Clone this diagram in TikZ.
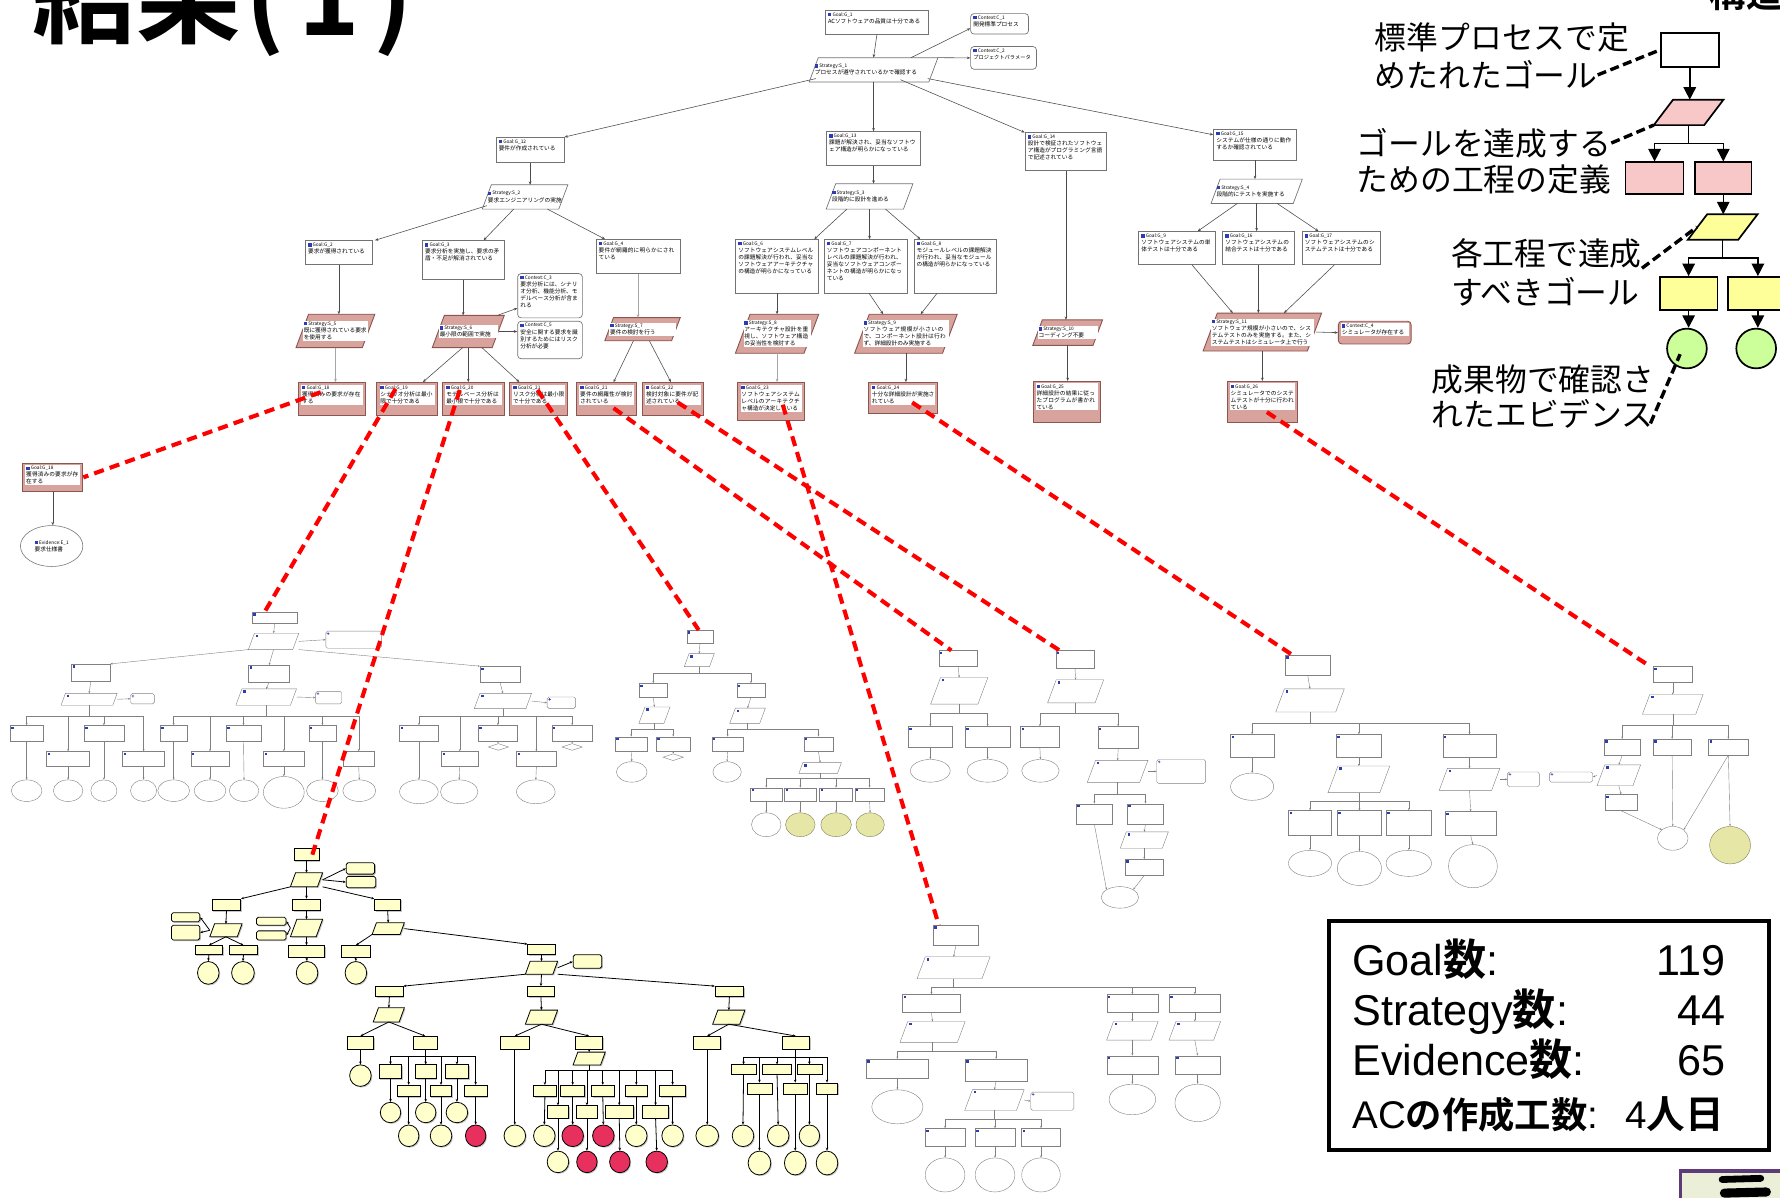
\documentclass[tikz,border=0pt]{standalone}
\usepackage{fontspec}
\setmainfont{Liberation Sans}
\newfontfamily\jp{Noto Sans CJK JP}
\newfontfamily\jpb{Noto Sans CJK JP Bold}
\XeTeXlinebreaklocale "ja"
\XeTeXlinebreakskip=0pt plus 1pt
\usetikzlibrary{arrows.meta,shapes.geometric,shadows}
\definecolor{pinkf}{HTML}{D8A39D}
\definecolor{pinkd}{HTML}{8B5550}
\definecolor{gsnblue}{HTML}{2B3DB0}
\definecolor{ycream}{HTML}{FFFFCC}
\definecolor{yred}{HTML}{E8305E}
\definecolor{lgpink}{HTML}{F8C8C8}
\definecolor{lgyel}{HTML}{FFFF99}
\definecolor{lggreen}{HTML}{CCFF99}
\definecolor{evy}{HTML}{E6E6A6}
\definecolor{cpurple}{HTML}{5E3A78}
\definecolor{cfill}{HTML}{ECEFD8}
\newcommand\gfont{\jp\fontsize{5}{6.2}\selectfont}
\newcommand\gsnhd[1]{\textcolor{gsnblue}{\rule{3pt}{3pt}}\hspace{1pt}{\fontsize{4.2}{5}\selectfont #1}}
\newcommand\mknode[6]{%
 \pgfmathsetmacro\gcx{(#3+#5)/2}\pgfmathsetmacro\gcy{(#4+#6)/2}%
 \pgfmathsetmacro\gw{#5-#3}\pgfmathsetmacro\gh{#6-#4}%
 \node[#1, minimum width=\gw pt, minimum height=\gh pt] (#2) at (\gcx,\gcy) {};}
\newcommand\mkpara[6]{%
 \mknode{inv}{#2}{#3}{#4}{#5}{#6}%
 \pgfmathsetmacro\gs{0.38*(#6-#4)}%
 \path[#1] ([xshift=\gs pt]#2.north west) -- (#2.north east) -- ([xshift=-\gs pt]#2.south east) -- (#2.south west) -- cycle;}
\newcommand\mkparaI[6]{\mkpara{#1}{#2}{#3}{#4}{#5}{#6}\pgfmathsetmacro\gsi{\gs+1.2}%
 \fill[gsnblue] ([shift={(\gsi,1.2)}]#2.north west) rectangle ++(2.2,2.2);}
\newcommand\gsnN[9]{%
 \mknode{#1}{#3}{#4}{#5}{#6}{#7}%
 \pgfmathsetmacro\gtw{#6-#4-6}%
 \node[#2, text width=\gtw pt] at ([shift={(2.5,2)}]#3.north west) {\gsnhd{#8}\\#9};}
\newcommand\gsnS[9]{%
 \mkpara{#1}{#3}{#4}{#5}{#6}{#7}%
 \pgfmathsetmacro\gtw{#6-#4-1.2*\gs}%
 \node[#2, text width=\gtw pt] at (#3.center) {\gsnhd{#8}\\#9};}
\newcommand\lk[3]{\draw[#1] (#2) -- (#3);}
\newcommand\busto[4]{\foreach \bch in {#3}{\draw[#4] (#1.south) -- ++(0,#2) -| (\bch.north);}}
\begin{document}
\begin{tikzpicture}[x=1pt,y=-1pt,
 inv/.style={inner sep=0pt, draw=none, rectangle},
 gbox/.style={draw=black!55, fill=white, line width=0.6pt, inner sep=0pt},
 pbox/.style={draw=pinkd, fill=pinkf, line width=0.8pt, inner sep=0pt},
 cbox/.style={gbox, rounded corners=3pt},
 pcbox/.style={pbox, rounded corners=3pt},
 gtxt/.style={anchor=north west, inner sep=0pt, align=left, font=\gfont},
 ptxt/.style={anchor=north west, inner sep=0.8pt, fill=white, align=left, font=\gfont},
 stxt/.style={inner sep=0pt, align=left, font=\gfont},
 pstxt/.style={inner sep=0.8pt, fill=white, align=left, font=\gfont},
 eev/.style={ellipse, draw=black!55, fill=white, line width=0.5pt, inner sep=0pt},
 ge/.style={draw=black!70, line width=0.5pt, -{Stealth[length=3pt,width=2.4pt]}},
 gel/.style={ge, draw=black!35},
 te/.style={draw=black!50, line width=0.35pt, -{Stealth[length=2pt,width=1.6pt]}},
 ye/.style={draw=black, line width=0.7pt, -{Stealth[length=2.6pt,width=2.2pt]}},
 rd/.style={draw=red, line width=3.6pt, dash pattern=on 9pt off 5.5pt},
 la/.style={draw=black, line width=1.3pt, -{Triangle[length=11pt,width=11pt]}},
 ld/.style={draw=black, line width=3pt, dash pattern=on 8pt off 4pt},
 tg/.style={draw=black!50, fill=white, line width=0.35pt, inner sep=0pt,
   path picture={\fill[gsnblue] ([shift={(1,1)}]path picture bounding box.north west) rectangle ++(2.2,2.2);}},
 tc/.style={tg, rounded corners=1.5pt},
 tp/.style={draw=black!50, fill=white, line width=0.35pt},
 tev/.style={ellipse, draw=black!50, fill=white, line width=0.35pt, inner sep=0pt},
 tevy/.style={tev, fill=evy, draw=evy!55!black},
 tdia/.style={diamond, draw=black!50, fill=white, line width=0.35pt, inner sep=0pt},
 ysh/.style={drop shadow={shadow xshift=1pt, shadow yshift=-1pt, fill=black!45}},
 yg/.style={draw=black, fill=ycream, line width=0.7pt, inner sep=0pt, ysh},
 yc/.style={yg, rounded corners=1.5pt},
 yp/.style={draw=black, fill=ycream, line width=0.7pt, ysh},
 yev/.style={ellipse, draw=black, fill=ycream, line width=0.7pt, inner sep=0pt, ysh},
 yer/.style={yev, fill=yred},
 lbox/.style={draw=black, line width=1.5pt, fill=white, inner sep=0pt},
 lpink/.style={lbox, fill=lgpink},
 lyel/.style={lbox, fill=lgyel},
 lcirc/.style={circle, draw=black, line width=1.5pt, fill=lggreen, inner sep=0pt, minimum size=35pt},
 lgt/.style={inner sep=0pt, anchor=west, font=\jp\fontsize{28}{30}\selectfont},
 stat/.style={inner sep=0pt, font=\fontsize{38}{44}\selectfont},
 statb/.style={inner sep=0pt, font=\fontsize{34}{40}\selectfont}
]
\useasboundingbox (0,0) rectangle (1568,1055);
\fill[white] (0,0) rectangle (1568,1055);

% ---------- title and heading (cut at top)
\node[anchor=base west, inner sep=0pt, font=\jpb\fontsize{92}{92}\selectfont] (title) at (28,31) {結果\hspace{4pt}(\hspace{12pt}1\hspace{12pt})};
\node[anchor=base west, inner sep=0pt, font=\jpb\fontsize{32}{32}\selectfont] (heading) at (1506,7) {構造};

% ---------- top GSN tree
\gsnN{gbox}{gtxt}{G1}{727}{9}{818}{30}{Goal:G\_1}{ACソフトウェアの品質は十分である}
\gsnN{cbox}{gtxt}{C1}{855}{12}{906}{30}{Context:C\_1}{開発標準プロセス}
\gsnN{cbox}{gtxt}{C2}{855}{41}{913}{61}{Context:C\_2}{{\fontsize{4.6}{6}\selectfont プロジェクトパラメータ}}
\gsnS{gbox}{stxt}{S1}{713}{51}{826}{72}{Strategy:S\_1}{プロセスが遵守されているかで確認する}
\gsnN{gbox}{gtxt}{G12}{437}{121}{497}{143}{Goal:G\_12}{要件が作成されている}
\gsnN{gbox}{gtxt}{G13}{728}{116}{811}{146}{Goal:G\_13}{課題が解決され、妥当なソフトウェア構造が明らかになっている}
\gsnN{gbox}{gtxt}{G14}{903}{117}{975}{150}{Goal:G\_14}{設計で検証されたソフトウェア構造がプログラミング言語で記述されている}
\gsnN{gbox}{gtxt}{G15}{1069}{114}{1142}{141}{Goal:G\_15}{システムが仕様の通りに動作するか確認されている}
\gsnS{gbox}{stxt}{S2}{425}{163}{500}{184}{Strategy:S\_2}{要求エンジニアリングの実施}
\gsnS{gbox}{stxt}{S3}{728}{162}{804}{184}{Strategy:S\_3}{段階的に設計を進める}
\gsnS{gbox}{stxt}{S4}{1067}{158}{1147}{179}{Strategy:S\_4}{段階的にテストを実施する}
\gsnN{gbox}{gtxt}{G2}{269}{212}{328}{233}{Goal:G\_2}{要求が獲得されている}
\gsnN{gbox}{gtxt}{G3}{372}{212}{444}{246}{Goal:G\_3}{要求分析を実施し、要求の矛盾・不足が解消されている}
\gsnN{gbox}{gtxt}{G4}{525}{211}{599}{241}{Goal:G\_4}{要件が網羅的に明らかにされている}
\gsnN{cbox}{gtxt}{C3}{456}{241}{513}{280}{Context:C\_3}{要求分析には、シナリオ分析、機能分析、モデルベース分析が含まれる}
\gsnN{cbox}{gtxt}{C5}{456}{283}{513}{316}{Context:C\_5}{安全に関する要求を識別するためにはリスク分析が必要}
\gsnN{gbox}{gtxt}{G6}{648}{211}{721}{258}{Goal:G\_6}{ソフトウェアシステムレベルの課題解決が行われ、妥当なソフトウェアアーキテクチャの構造が明らかになっている}
\gsnN{gbox}{gtxt}{G7}{726}{211}{799}{258}{Goal:G\_7}{ソフトウェアコンポーネントレベルの課題解決が行われ、妥当なソフトウェアコンポーネントの構造が明らかになっている}
\gsnN{gbox}{gtxt}{G8}{805}{211}{878}{258}{Goal:G\_8}{モジュールレベルの課題解決が行われ、妥当なモジュールの構造が明らかになっている}
\gsnN{gbox}{gtxt}{G9}{1003}{204}{1071}{233}{Goal:G\_9}{ソフトウェアシステムの単体テストは十分である}
\gsnN{gbox}{gtxt}{G16}{1077}{204}{1140}{233}{Goal:G\_16}{ソフトウェアシステムの結合テストは十分である}
\gsnN{gbox}{gtxt}{G17}{1147}{204}{1216}{233}{Goal:G\_17}{ソフトウェアシステムのシステムテストは十分である}
\gsnS{pbox}{pstxt}{S5}{261}{277}{330}{306}{Strategy:S\_5}{既に獲得されている要求を使用する}
\gsnS{pbox}{pstxt}{S6}{381}{278}{444}{306}{Strategy:S\_6}{最小限の範囲で実施}
\gsnS{pbox}{pstxt}{S7}{533}{280}{599}{300}{Strategy:S\_7}{要件の検討を行う}
\gsnS{pbox}{pstxt}{S8}{648}{277}{721}{311}{Strategy:S\_8}{アーキテクチャ設計を重視し、ソフトウェア構造の妥当性を検討する}
\gsnS{pbox}{pstxt}{S9}{753}{277}{843}{311}{Strategy:S\_9}{ソフトウェア規模が小さいので、コンポーネント設計は行わず、詳細設計のみ実施する}
\gsnS{pbox}{pstxt}{S10}{910}{282}{971}{304}{Strategy:S\_10}{コーディング不要}
\gsnS{pbox}{pstxt}{S11}{1060}{276}{1164}{309}{Strategy:S\_11}{ソフトウェア規模が小さいので、システムテストのみを実施する。また、システムテストはシミュレータ上で行う}
\gsnN{pcbox}{ptxt}{C4}{1179}{283}{1243}{303}{Context:C\_4}{シミュレータが存在する}
\gsnN{pbox}{ptxt}{G18}{263}{337}{322}{366}{Goal:G\_18}{獲得済みの要求が存在する}
\gsnN{pbox}{ptxt}{G19}{332}{337}{385}{366}{Goal:G\_19}{シナリオ分析は最小限で十分である}
\gsnN{pbox}{ptxt}{G20}{390}{337}{444}{366}{Goal:G\_20}{モデルベース分析は最小限で十分である}
\gsnN{pbox}{ptxt}{G21}{449}{337}{500}{366}{Goal:G\_21}{リスク分析は最小限で十分である}
\gsnN{pbox}{ptxt}{G21b}{508}{337}{561}{366}{Goal:G\_21}{要件の網羅性が検討されている}
\gsnN{pbox}{ptxt}{G22}{566}{337}{620}{366}{Goal:G\_22}{検討対象に要件が記述されている}
\gsnN{pbox}{ptxt}{G23}{650}{337}{709}{370}{Goal:G\_23}{ソフトウェアシステムレベルのアーキテクチャ構造が決定している}
\gsnN{pbox}{ptxt}{G24}{765}{337}{826}{364}{Goal:G\_24}{十分な詳細設計が実施されている}
\gsnN{pbox}{ptxt}{G25}{910}{336}{969}{372}{Goal:G\_25}{詳細設計の結果に従ったプログラムが書かれている}
\gsnN{pbox}{ptxt}{G26}{1081}{336}{1143}{372}{Goal:G\_26}{シミュレータでのシステムテストが十分に行われている}
\gsnN{pbox}{ptxt}{FG18}{20}{408}{73}{433}{Goal:G\_18}{獲得済みの要求が存在する}
\mknode{eev}{E1}{18}{463}{73}{499}
\node[stxt] at (E1.center) {\gsnhd{Evidence:E\_1}\\要求仕様書};

\lk{ge}{G1.south}{S1.north}
\lk{ge}{[xshift=33]S1.north}{[shift={(0,4)}]C1.west}
\lk{ge}{S1.north east}{C2.west}
\lk{ge}{[shift={(6,-3)}]S1.south west}{G12.north east}
\lk{ge}{S1.south}{G13.north}
\lk{ge}{[shift={(-33,-2)}]S1.south east}{G14.north west}
\lk{ge}{[shift={(-9,-3)}]S1.south east}{[shift={(0,5)}]G15.north west}
\lk{ge}{G12.south}{G12.south |- S2.north}
\lk{ge}{[shift={(4,-3)}]S2.south west}{[xshift=2]G2.north east}
\lk{ge}{[xshift=-10]S2.south}{[xshift=18]G3.north}
\lk{ge}{[xshift=-18]S2.south east}{[xshift=-29]G4.north}
\lk{ge}{G2.south}{G2.south |- S5.north}
\lk{ge}{G3.south}{G3.south |- S6.north}
\lk{gel}{G4.south}{G4.south |- S7.north}
\lk{ge}{[xshift=-6]S6.north east}{[shift={(0,11)}]C3.west}
\lk{ge}{[xshift=-5]S6.east}{C5.west |- S6.east}
\lk{gel}{S5.south}{S5.south |- G18.north}
\lk{ge}{[xshift=-5]S6.south}{[xshift=14]G19.north}
\lk{ge}{S6.south}{S6.south |- G20.north}
\lk{ge}{[xshift=12]S6.south}{[xshift=-17]G21.north}
\lk{ge}{[xshift=-8]S7.south}{[xshift=6]G21b.north}
\lk{ge}{[xshift=6]S7.south}{[xshift=-2]G22.north}
\lk{ge}{G13.south}{G13.south |- S3.north}
\lk{ge}{[xshift=-20]S3.south}{[xshift=-4]G6.north east}
\lk{ge}{S3.south}{S3.south |- G7.north}
\lk{ge}{[xshift=14]S3.south}{[xshift=6]G8.north west}
\lk{ge}{G6.south}{G6.south |- S8.north}
\lk{ge}{[xshift=3]G7.south}{[xshift=-20]S9.north}
\lk{ge}{[xshift=-16]G8.south}{[xshift=13]S9.north}
\lk{gel}{S8.south}{S8.south |- G23.north}
\lk{ge}{S9.south}{S9.south |- G24.north}
\lk{ge}{G14.south}{G14.south |- S10.north}
\lk{ge}{S10.south}{S10.south |- G25.north}
\lk{ge}{G15.south}{G15.south |- S4.north}
\lk{ge}{[xshift=-17]S4.south}{[xshift=18]G9.north}
\lk{ge}{S4.south}{S4.south |- G16.north}
\lk{ge}{[xshift=18]S4.south}{[xshift=-20]G17.north}
\lk{ge}{[xshift=13]G9.south}{[xshift=-26]S11.north}
\lk{ge}{G16.south}{G16.south |- S11.north}
\lk{ge}{[xshift=-6]G17.south}{[xshift=19]S11.north}
\lk{ge}{[xshift=-5]S11.east}{C4.west}
\lk{ge}{S11.south}{S11.south |- G26.north}
\lk{ge}{FG18.south}{FG18.south |- E1.north}

% ---------- subtree A
\mknode{tg}{AG1}{222}{539}{262}{549}
\mkparaI{tp}{AS1}{219}{558}{263}{572}
\mknode{tc}{AC1}{287}{556}{336}{571}
\mknode{tg}{AG2}{63}{585}{97}{600}
\mknode{tg}{AG3}{219}{586}{255}{601}
\mknode{tg}{AG4}{423}{587}{458}{601}
\mkparaI{tp}{AS2}{54}{611}{103}{621}
\mknode{tc}{AC2}{115}{611}{136}{620}
\mkparaI{tp}{AS3}{208}{607}{261}{621}
\mknode{tc}{AC3}{278}{609}{301}{620}
\mkparaI{tp}{AS4}{418}{611}{468}{624}
\mknode{tc}{AC4}{482}{614}{507}{624}
\mknode{tg}{AL1}{9}{639}{38}{653}
\mknode{tg}{AL2}{41}{662}{79}{675}
\mknode{tg}{AL3}{74}{639}{109}{653}
\mknode{tg}{AL4}{108}{662}{145}{675}
\mknode{tev}{AE1}{10}{687}{37}{706}
\mknode{tev}{AE2}{47}{687}{73}{706}
\mknode{tev}{AE3}{80}{687}{103}{706}
\mknode{tev}{AE4}{115}{687}{138}{706}
\mknode{tg}{AM1}{141}{639}{165}{653}
\mknode{tg}{AM2}{168}{662}{202}{675}
\mknode{tg}{AM3}{199}{639}{230}{653}
\mknode{tg}{AM4}{232}{662}{268}{675}
\mknode{tg}{AM5}{272}{639}{296}{653}
\mknode{tg}{AM6}{302}{662}{330}{675}
\mknode{tev}{AN1}{139}{687}{167}{706}
\mknode{tev}{AN2}{171}{687}{199}{706}
\mknode{tev}{AN3}{202}{687}{228}{706}
\mknode{tev}{AN4}{232}{684}{268}{712}
\mknode{tev}{AN5}{270}{687}{298}{706}
\mknode{tev}{AN6}{302}{687}{331}{706}
\mknode{tg}{AR1}{352}{639}{386}{653}
\mknode{tg}{AR2}{389}{662}{421}{675}
\mknode{tg}{AR3}{421}{639}{456}{653}
\mknode{tg}{AR4}{455}{662}{490}{675}
\mknode{tg}{AR5}{486}{639}{522}{653}
\mknode{tdia}{AD1}{430}{655}{448}{661}
\mknode{tdia}{AD2}{495}{655}{513}{661}
\mknode{tev}{AQ1}{352}{687}{386}{708}
\mknode{tev}{AQ2}{388}{687}{421}{708}
\mknode{tev}{AQ4}{455}{687}{489}{708}
\lk{te}{AG1.south}{AS1.north}
\lk{te}{AS1.east}{AC1.west}
\lk{te}{AS1.south west}{AG2.north east}
\lk{te}{AS1.south}{AG3.north}
\lk{te}{AS1.south east}{AG4.north west}
\lk{te}{AG2.south}{AS2.north}
\lk{te}{AS2.east}{AC2.west}
\lk{te}{AG3.south}{AS3.north}
\lk{te}{AS3.east}{AC3.west}
\lk{te}{AG4.south}{AS4.north}
\lk{te}{AS4.east}{AC4.west}
\busto{AS2}{10}{AL1,AL2,AL3,AL4}{te}
\busto{AS3}{10}{AM1,AM2,AM3,AM4,AM5,AM6}{te}
\busto{AS4}{7}{AR1,AR2,AR3,AR4,AR5}{te}
\lk{te}{AL1.south}{AE1.north}\lk{te}{AL2.south}{AE2.north}\lk{te}{AL3.south}{AE3.north}\lk{te}{AL4.south}{AE4.north}
\lk{te}{AM1.south}{AN1.north}\lk{te}{AM2.south}{AN2.north}\lk{te}{AM3.south}{AN3.north}
\lk{te}{AM4.south}{AN4.north}\lk{te}{AM5.south}{AN5.north}\lk{te}{AM6.south}{AN6.north}
\lk{te}{AR1.south}{AQ1.north}\lk{te}{AR2.south}{AQ2.north}\lk{te}{AR4.south}{AQ4.north}
\lk{te}{AR3.south}{AD1.north}\lk{te}{AR5.south}{AD2.north}

% ---------- subtree B
\mknode{tg}{BG1}{605}{555}{628}{567}
\mkparaI{tp}{BS1}{603}{576}{629}{587}
\mknode{tg}{BG2}{563}{602}{588}{614}
\mknode{tg}{BG3}{649}{602}{674}{614}
\mkparaI{tp}{BS2}{563}{623}{590}{637}
\mkparaI{tp}{BS3}{643}{624}{674}{637}
\mknode{tg}{BG4}{542}{649}{570}{662}
\mknode{tg}{BG5}{578}{649}{608}{662}
\mknode{tdia}{BD1}{584}{664}{602}{670}
\mknode{tev}{BE1}{543}{671}{570}{689}
\mknode{tg}{BG6}{627}{649}{655}{662}
\mknode{tev}{BE2}{628}{671}{653}{689}
\mknode{tg}{BG7}{708}{649}{734}{662}
\mkparaI{tp}{BS4}{704}{672}{741}{681}
\mknode{tg}{BG8}{661}{694}{689}{706}
\mknode{tg}{BG9}{691}{694}{719}{706}
\mknode{tg}{BG10}{722}{694}{751}{706}
\mknode{tg}{BG11}{753}{694}{779}{706}
\mknode{tev}{BE3}{662}{716}{688}{737}
\mknode{tevy}{BE4}{692}{716}{718}{737}
\mknode{tevy}{BE5}{723}{716}{750}{737}
\mknode{tevy}{BE6}{754}{716}{779}{737}
\lk{te}{BG1.south}{BS1.north}
\busto{BS1}{6}{BG2,BG3}{te}
\lk{te}{BG2.south}{BS2.north}\lk{te}{BG3.south}{BS3.north}
\busto{BS2}{5}{BG4,BG5}{te}
\busto{BS3}{5}{BG6,BG7}{te}
\lk{te}{BG4.south}{BE1.north}\lk{te}{BG5.south}{BD1.north}\lk{te}{BG6.south}{BE2.north}\lk{te}{BG7.south}{BS4.north}
\busto{BS4}{4}{BG8,BG9,BG10,BG11}{te}
\lk{te}{BG8.south}{BE3.north}\lk{te}{BG9.south}{BE4.north}\lk{te}{BG10.south}{BE5.north}\lk{te}{BG11.south}{BE6.north}

% ---------- subtree C
\mknode{tg}{CG1}{827}{573}{861}{587}
\mkparaI{tp}{CS1}{820}{597}{870}{620}
\mknode{tg}{CG2}{800}{640}{839}{658}
\mknode{tg}{CG3}{850}{640}{890}{658}
\mknode{tev}{CE1}{802}{669}{837}{689}
\mknode{tev}{CE2}{852}{669}{888}{689}
\lk{te}{CG1.south}{CS1.north}
\busto{CS1}{8}{CG2,CG3}{te}
\lk{te}{CG2.south}{CE1.north}\lk{te}{CG3.south}{CE2.north}

% ---------- subtree D
\mknode{tg}{DG1}{930}{573}{964}{589}
\mkparaI{tp}{DS1}{923}{599}{972}{619}
\mknode{tg}{DG2}{899}{640}{933}{658}
\mknode{tg}{DG3}{967}{640}{1003}{659}
\mknode{tev}{DE1}{900}{669}{933}{689}
\mkparaI{tp}{DS2}{958}{670}{1011}{689}
\mknode{tc}{DC1}{1019}{669}{1062}{690}
\mknode{tg}{DG4}{948}{708}{980}{726}
\mknode{tg}{DG5}{993}{708}{1025}{726}
\mkparaI{tp}{DS3}{987}{733}{1029}{747}
\mknode{tg}{DG6}{991}{757}{1025}{771}
\mknode{tev}{DE2}{970}{781}{1003}{800}
\lk{te}{DG1.south}{DS1.north}
\busto{DS1}{9}{DG2,DG3}{te}
\lk{te}{DG2.south}{DE1.north}\lk{te}{DG3.south}{DS2.north}\lk{te}{DS2.east}{DC1.west}
\busto{DS2}{10}{DG4,DG5}{te}
\lk{te}{DG5.south}{DS3.north}\lk{te}{DS3.south}{DG6.north}
\lk{te}{DG4.south}{DE2.north west}\lk{te}{DG6.south}{DE2.north east}

% ---------- subtree E
\mknode{tg}{EG1}{1132}{577}{1172}{595}
\mkparaI{tp}{ES1}{1124}{607}{1184}{627}
\mknode{tg}{EG2}{1084}{647}{1122}{667}
\mknode{tg}{EG3}{1177}{647}{1217}{667}
\mknode{tg}{EG7}{1271}{647}{1318}{667}
\mknode{tev}{EE1}{1084}{681}{1122}{705}
\mkparaI{tp}{ES2}{1170}{675}{1224}{698}
\mknode{tg}{EG4}{1135}{714}{1173}{736}
\mknode{tg}{EG5}{1178}{714}{1217}{736}
\mknode{tg}{EG6}{1221}{714}{1261}{736}
\mknode{tev}{EE2}{1135}{749}{1173}{772}
\mknode{tev}{EE3}{1178}{750}{1217}{780}
\mknode{tev}{EE4}{1221}{749}{1261}{772}
\mkparaI{tp}{ES3}{1268}{677}{1321}{696}
\mknode{tc}{EC1}{1328}{680}{1356}{693}
\mknode{tg}{EG8}{1273}{715}{1318}{736}
\mknode{tev}{EE5}{1276}{744}{1319}{782}
\lk{te}{EG1.south}{ES1.north}
\busto{ES1}{10}{EG2,EG3,EG7}{te}
\lk{te}{EG2.south}{EE1.north}\lk{te}{EG3.south}{ES2.north}
\busto{ES2}{8}{EG4,EG5,EG6}{te}
\lk{te}{EG4.south}{EE2.north}\lk{te}{EG5.south}{EE3.north}\lk{te}{EG6.south}{EE4.north}
\lk{te}{EG7.south}{ES3.north}\lk{te}{ES3.east}{EC1.west}\lk{te}{ES3.south}{EG8.north}\lk{te}{EG8.south}{EE5.north}

% ---------- subtree F
\mknode{tg}{FG1}{1456}{587}{1491}{601}
\mkparaI{tp}{FS1}{1447}{612}{1500}{629}
\mknode{tg}{FG2}{1413}{651}{1445}{665}
\mknode{tg}{FG3}{1456}{651}{1490}{665}
\mknode{tg}{FG4}{1505}{651}{1540}{665}
\mkparaI{tp}{FS2}{1407}{674}{1445}{692}
\mknode{tc}{FC1}{1365}{680}{1403}{689}
\mknode{tg}{FG5}{1414}{700}{1442}{714}
\mknode{tev}{FE1}{1460}{728}{1487}{749}
\mknode{tevy}{FE2}{1506}{728}{1542}{761}
\lk{te}{FG1.south}{FS1.north}
\busto{FS1}{10}{FG2,FG3,FG4}{te}
\lk{te}{FG2.south}{FS2.north}\lk{te}{FS2.west}{FC1.east}\lk{te}{FS2.south}{FG5.north}
\lk{te}{FG5.south}{FE1.north west}\lk{te}{FG3.south}{FE1.north}\lk{te}{FG4.south}{FE1.north east}\lk{te}{FG4.south}{FE2.north}

% ---------- subtree G (bottom middle)
\mknode{tg}{GG1}{822}{815}{862}{833}
\mkparaI{tp}{GS1}{808}{843}{872}{862}
\mknode{tg}{GG2}{795}{876}{846}{892}
\mknode{tg}{GG3}{975}{876}{1020}{892}
\mknode{tg}{GG4}{1030}{876}{1075}{892}
\mkparaI{tp}{GS2}{793}{900}{850}{918}
\mkparaI{tp}{GS3}{975}{900}{1020}{916}
\mkparaI{tp}{GS4}{1030}{900}{1075}{916}
\mknode{tg}{GG5}{763}{933}{818}{950}
\mknode{tg}{GG6}{850}{933}{905}{952}
\mknode{tev}{GE1}{768}{960}{813}{990}
\mkparaI{tp}{GS5}{850}{960}{902}{978}
\mknode{tc}{GC1}{908}{962}{946}{978}
\mknode{tg}{GG7}{815}{994}{850}{1010}
\mknode{tg}{GG8}{859}{994}{894}{1010}
\mknode{tg}{GG9}{900}{994}{934}{1010}
\mknode{tev}{GE2}{815}{1020}{850}{1050}
\mknode{tev}{GE3}{859}{1020}{894}{1050}
\mknode{tev}{GE4}{900}{1020}{934}{1050}
\mknode{tg}{GG10}{975}{930}{1020}{946}
\mknode{tev}{GE5}{977}{955}{1018}{982}
\mknode{tg}{GG11}{1035}{930}{1075}{946}
\mknode{tev}{GE6}{1035}{955}{1075}{988}
\lk{te}{GG1.south}{GS1.north}
\busto{GS1}{7}{GG2,GG3,GG4}{te}
\lk{te}{GG2.south}{GS2.north}\lk{te}{GG3.south}{GS3.north}\lk{te}{GG4.south}{GS4.north}
\busto{GS2}{8}{GG5,GG6}{te}
\lk{te}{GG5.south}{GE1.north}\lk{te}{GG6.south}{GS5.north}\lk{te}{GS5.east}{GC1.west}
\busto{GS5}{8}{GG7,GG8,GG9}{te}
\lk{te}{GG7.south}{GE2.north}\lk{te}{GG8.south}{GE3.north}\lk{te}{GG9.south}{GE4.north}
\lk{te}{GS3.south}{GG10.north}\lk{te}{GG10.south}{GE5.north}
\lk{te}{GS4.south}{GG11.north}\lk{te}{GG11.south}{GE6.north}

% ---------- yellow tree
\mknode{yg}{YG1}{259}{747}{281}{758}
\mkpara{yp}{YS1}{256}{769}{284}{781}
\mknode{yc}{YC1}{305}{760}{330}{770}
\mknode{yc}{YC2}{305}{772}{331}{782}
\mknode{yg}{YG2}{187}{792}{212}{802}
\mknode{yg}{YG3}{258}{792}{282}{802}
\mknode{yg}{YG4}{330}{792}{353}{802}
\mkpara{yp}{YS2}{185}{814}{213}{825}
\mknode{yc}{YC3}{151}{804}{176}{812}
\mknode{yc}{YC4}{151}{815}{176}{828}
\mkpara{yp}{YS3}{256}{810}{284}{825}
\mknode{yc}{YC5}{226}{808}{252}{815}
\mknode{yc}{YC6}{226}{820}{252}{828}
\mkpara{yp}{YS4}{328}{813}{356}{823}
\mknode{yg}{YG5}{172}{833}{196}{841}
\mknode{yg}{YG6}{202}{833}{227}{841}
\mknode{yg}{YG7}{254}{833}{286}{843}
\mknode{yg}{YG8}{301}{833}{326}{843}
\mknode{yev}{YE1}{174}{847}{193}{867}
\mknode{yev}{YE2}{204}{847}{224}{867}
\mknode{yev}{YE3}{261}{847}{280}{867}
\mknode{yev}{YE4}{304}{847}{323}{867}
\mknode{yg}{YG9}{465}{832}{489}{841}
\mkpara{yp}{YS5}{463}{847}{491}{858}
\mknode{yc}{YC7}{505}{841}{530}{853}
\mknode{yg}{YG10}{331}{869}{355}{878}
\mknode{yg}{YG11}{465}{869}{488}{878}
\mknode{yg}{YG12}{630}{869}{655}{878}
\mkpara{yp}{YS6}{329}{888}{356}{900}
\mkpara{yp}{YS7}{463}{890}{491}{902}
\mkpara{yp}{YS8}{628}{890}{656}{902}
\mknode{yg}{YG13}{306}{913}{329}{924}
\mknode{yg}{YG14}{364}{913}{385}{924}
\mknode{yg}{YG15}{441}{913}{466}{924}
\mknode{yg}{YG16}{507}{913}{531}{924}
\mknode{yg}{YG17}{611}{913}{635}{924}
\mknode{yg}{YG18}{689}{913}{713}{924}
\mknode{yev}{YE5}{308}{938}{327}{957}
\mknode{yg}{Ya1}{334}{938}{354}{950}
\mknode{yg}{Ya2}{350}{956}{370}{966}
\mknode{yg}{Ya3}{366}{938}{384}{950}
\mknode{yg}{Ya4}{379}{956}{398}{966}
\mknode{yg}{Ya5}{392}{938}{413}{950}
\mknode{yg}{Ya6}{409}{956}{429}{966}
\mknode{yev}{YaE1}{335}{971}{353}{989}
\mknode{yev}{YaE3}{366}{971}{384}{989}
\mknode{yev}{YaE5}{393}{971}{412}{989}
\mknode{yev}{YaE2}{351}{991}{369}{1010}
\mknode{yev}{YaE4}{379}{991}{398}{1010}
\mknode{yer}{YaE6}{410}{991}{428}{1010}
\mknode{yev}{YE6}{444}{991}{463}{1010}
\mkpara{yp}{YS9}{505}{927}{533}{938}
\mknode{yg}{Yb1}{470}{956}{490}{966}
\mknode{yg}{Yb2}{482}{974}{501}{985}
\mknode{yg}{Yb3}{494}{956}{515}{966}
\mknode{yg}{Yb4}{508}{974}{526}{985}
\mknode{yg}{Yb5}{521}{956}{541}{966}
\mknode{yg}{Yb6}{533}{974}{558}{985}
\mknode{yg}{Yb7}{551}{956}{570}{966}
\mknode{yg}{Yb8}{566}{974}{589}{985}
\mknode{yg}{Yb9}{581}{956}{604}{966}
\mknode{yev}{YbE1}{470}{991}{489}{1010}
\mknode{yer}{YbE3}{495}{991}{514}{1010}
\mknode{yer}{YbE5}{522}{991}{541}{1010}
\mknode{yev}{YbE7}{551}{991}{570}{1010}
\mknode{yev}{YbE9}{583}{991}{602}{1010}
\mknode{yev}{YbE2}{482}{1014}{501}{1033}
\mknode{yer}{YbE4}{508}{1014}{526}{1033}
\mknode{yer}{YbE6}{537}{1014}{555}{1033}
\mknode{yer}{YbE8}{569}{1014}{588}{1033}
\mknode{yev}{YE7}{613}{991}{633}{1010}
\mknode{yg}{Yc1}{644}{938}{666}{946}
\mknode{yg}{Yc2}{658}{954}{680}{964}
\mknode{yg}{Yc3}{672}{938}{697}{946}
\mknode{yg}{Yc4}{690}{954}{711}{964}
\mknode{yg}{Yc5}{702}{938}{724}{946}
\mknode{yg}{Yc6}{719}{954}{738}{964}
\mknode{yev}{YcE1}{645}{991}{664}{1010}
\mknode{yev}{YcE3}{676}{991}{695}{1010}
\mknode{yev}{YcE5}{704}{991}{722}{1010}
\mknode{yev}{YcE2}{659}{1014}{679}{1035}
\mknode{yev}{YcE4}{691}{1014}{710}{1035}
\mknode{yev}{YcE6}{719}{1014}{738}{1035}
\lk{ye}{YG1.south}{YS1.north}
\lk{ye}{YS1.east}{YC1.west}\lk{ye}{YS1.east}{YC2.west}
\lk{ye}{YS1.south west}{YG2.north east}\lk{ye}{YS1.south}{YG3.north}\lk{ye}{YS1.south east}{YG4.north west}
\lk{ye}{YG2.south}{YS2.north}\lk{ye}{YS2.west}{YC3.east}\lk{ye}{YS2.west}{YC4.east}
\lk{ye}{YS2.south}{YG5.north}\lk{ye}{YS2.south}{YG6.north}
\lk{ye}{YG3.south}{YS3.north}\lk{ye}{YS3.west}{YC5.east}\lk{ye}{YS3.west}{YC6.east}\lk{ye}{YS3.south}{YG7.north}
\lk{ye}{YG4.south}{YS4.north}\lk{ye}{YS4.south west}{YG8.north}\lk{ye}{YS4.east}{YG9.north west}
\lk{ye}{YG5.south}{YE1.north}\lk{ye}{YG6.south}{YE2.north}\lk{ye}{YG7.south}{YE3.north}\lk{ye}{YG8.south}{YE4.north}
\lk{ye}{YG9.south}{YS5.north}\lk{ye}{YS5.east}{YC7.west}
\lk{ye}{YS5.south west}{YG10.north east}\lk{ye}{YS5.south}{YG11.north}\lk{ye}{YS5.south east}{YG12.north west}
\lk{ye}{YG10.south}{YS6.north}\lk{ye}{YG11.south}{YS7.north}\lk{ye}{YG12.south}{YS8.north}
\lk{ye}{YS6.south}{YG13.north}\lk{ye}{YS6.south}{YG14.north}
\lk{ye}{YS7.south}{YG15.north}\lk{ye}{YS7.south}{YG16.north}
\lk{ye}{YS8.south}{YG17.north}\lk{ye}{YS8.south}{YG18.north}
\lk{ye}{YG13.south}{YE5.north}
\busto{YG14}{6}{Ya1,Ya2,Ya3,Ya4,Ya5,Ya6}{ye}
\lk{ye}{Ya1.south}{YaE1.north}\lk{ye}{Ya3.south}{YaE3.north}\lk{ye}{Ya5.south}{YaE5.north}
\lk{ye}{Ya2.south}{YaE2.north}\lk{ye}{Ya4.south}{YaE4.north}\lk{ye}{Ya6.south}{YaE6.north}
\lk{ye}{YG15.south}{YE6.north}
\lk{ye}{YG16.south}{YS9.north}
\busto{YS9}{5}{Yb1,Yb2,Yb3,Yb4,Yb5,Yb6,Yb7,Yb8,Yb9}{ye}
\lk{ye}{Yb1.south}{YbE1.north}\lk{ye}{Yb3.south}{YbE3.north}\lk{ye}{Yb5.south}{YbE5.north}\lk{ye}{Yb7.south}{YbE7.north}\lk{ye}{Yb9.south}{YbE9.north}
\lk{ye}{Yb2.south}{YbE2.north}\lk{ye}{Yb4.south}{YbE4.north}\lk{ye}{Yb6.south}{YbE6.north}\lk{ye}{Yb8.south}{YbE8.north}
\lk{ye}{YG17.south}{YE7.north}
\busto{YG18}{7}{Yc1,Yc2,Yc3,Yc4,Yc5,Yc6}{ye}
\lk{ye}{Yc1.south}{YcE1.north}\lk{ye}{Yc3.south}{YcE3.north}\lk{ye}{Yc5.south}{YcE5.north}
\lk{ye}{Yc2.south}{YcE2.north}\lk{ye}{Yc4.south}{YcE4.north}\lk{ye}{Yc6.south}{YcE6.north}

% ---------- red dashed links
\lk{rd}{[shift={(-10,-6)}]G18.center}{FG18.east}
\lk{rd}{[shift={(-10,-9)}]G19.center}{[shift={(-10,-3)}]AG1.center}
\lk{rd}{[shift={(-12,-8)}]G20.center}{[shift={(4,4)}]YG1.center}
\lk{rd}{[shift={(-1,-8)}]G21.center}{[shift={(-1,-6)}]BG1.center}
\lk{rd}{[shift={(6,8)}]G21b.center}{[shift={(-6,-7)}]CG1.center}
\lk{rd}{[shift={(4,3)}]G22.center}{[shift={(-12,-7)}]DG1.center}
\lk{rd}{[shift={(10,3)}]G23.center}{[shift={(-15,-9)}]GG1.center}
\lk{rd}{[shift={(8,4)}]G24.center}{[shift={(-12,-8)}]EG1.center}
\lk{rd}{[shift={(4,9)}]G26.center}{[shift={(-20,-7)}]FG1.center}

% ---------- legend
\node[lgt] (T1) at (1211,33) {標準プロセスで定};
\node[lgt] (T2) at (1211,66) {めたれたゴール};
\node[lgt] (T3) at (1195,126) {ゴールを達成する};
\node[lgt] (T4) at (1195,158) {ための工程の定義};
\node[lgt] (T5) at (1278,223) {各工程で達成};
\node[lgt] (T6) at (1278,257) {すべきゴール};
\node[lgt] (T7) at (1261,334) {成果物で確認さ};
\node[lgt] (T8) at (1261,365) {れたエビデンス};
\mknode{lbox}{LW}{1463}{29}{1514}{59}
\mknode{inv}{LP}{1457}{88}{1518}{110}
\path[lbox, fill=lgpink] ([xshift=17pt]LP.north west) -- (LP.north east) -- ([xshift=-17pt]LP.south east) -- (LP.south west) -- cycle;
\mknode{lpink}{LB1}{1432}{143}{1483}{171}
\mknode{lpink}{LB2}{1493}{143}{1543}{171}
\mknode{inv}{LY}{1487}{189}{1548}{211}
\path[lbox, fill=lgyel] ([xshift=17pt]LY.north west) -- (LY.north east) -- ([xshift=-17pt]LY.south east) -- (LY.south west) -- cycle;
\mknode{lyel}{LYB1}{1462}{244}{1513}{273}
\mknode{lyel}{LYB2}{1522}{244}{1575}{273}
\node[lcirc] (LC1) at (1486,307) {};
\node[lcirc] (LC2) at (1547,307) {};
\draw[la] (LW.south) -- (LW.south |- LP.north);
\draw[la] (LP.south) -- ++(0,16) -| (LB1.north);
\draw[la] (LP.south) -- ++(0,16) -| (LB2.north);
\draw[la] (LB2.south) -- (LB2.south |- LY.north);
\draw[la] (LY.south) -- ++(0,16) -| (LYB1.north);
\draw[la] (LY.south) -- ++(0,16) -| (LYB2.north);
\draw[la] (LYB1.south) -- (LYB1.south |- LC1.north);
\draw[la] (LYB2.south) -- (LYB2.south |- LC2.north);
\draw[ld] (T2.east) -- (LW.west);
\draw[ld] (T3.east) -- (LP.south west);
\draw[ld] (T5.south east) -- ([xshift=8]LY.west);
\draw[ld] ([shift={(-3,8)}]T8.east) -- ([shift={(-6,5)}]LC1.center);

% ---------- statistics box
\node[draw=black, line width=3.5pt, minimum width=387pt, minimum height=202pt, inner sep=0pt] (stats) at (1364.5,912) {};
\node[stat, anchor=base west] (s1) at (1191,859) {Goal{\jpb 数}:};
\node[stat, anchor=base east] (n1) at (1520,859) {119};
\node[stat, anchor=base west] (s2) at (1191,903) {Strategy{\jpb 数}:};
\node[stat, anchor=base east] (n2) at (1520,903) {44};
\node[stat, anchor=base west] (s3) at (1191,947) {Evidence{\jpb 数}:};
\node[stat, anchor=base east] (n3) at (1520,947) {65};
\node[statb, anchor=base west] (s4) at (1191,994) {AC{\jpb\fontsize{32}{38}\selectfont の作成工数}:};
\node[statb, anchor=base east] (n4) at (1519,994) {4{\jpb\fontsize{34}{38}\selectfont 人日}};

% ---------- cut-off box at bottom right
\node[draw=cpurple, line width=3pt, fill=cfill, minimum width=110pt, minimum height=40pt, anchor=north west, inner sep=0pt] (cornerbox) at (1479,1030) {};
\draw[line width=6pt, line cap=round] (1517,1039) -- (1551,1038);
\draw[line width=8pt, line cap=round] (1519,1051) -- (1556,1050);
\end{tikzpicture}
\end{document}
